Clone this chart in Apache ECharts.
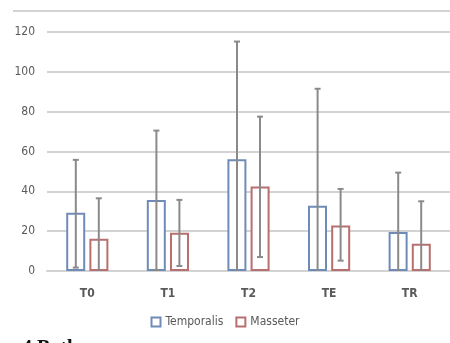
<!DOCTYPE html>
<html><head><meta charset="utf-8">
<script src="https://cdn.jsdelivr.net/npm/echarts@6/dist/echarts.min.js"></script>
<style>html,body{margin:0;padding:0;background:#fff}#c{width:450px;height:343px}</style>
</head><body><div id="c"></div>
<script>
var categories = ['T0', 'T1', 'T2', 'TE', 'TR'];
var temporalis = [29.3, 35.7, 56.1, 32.8, 19.6];
var temporalisLow = [1.7, 0.5, 0, 0, 0];
var temporalisHigh = [55.8, 70.5, 115.2, 91.5, 49.4];
var masseter = [16.2, 19.2, 42.4, 22.8, 13.7];
var masseterLow = [0, 2.5, 7, 5.2, 0];
var masseterHigh = [36.5, 35.7, 77.5, 41.2, 35];
var yTicks = [0, 20, 40, 60, 80, 100, 120];

var FONT = '"Liberation Sans Narrow", "DejaVu Sans Condensed", "Liberation Sans", Arial, sans-serif';
var chart = echarts.init(document.getElementById('c'));

function errData(low, high) {
  return categories.map(function (c, i) { return [i, low[i], high[i]]; });
}
function errRender(offset) {
  return function (params, api) {
    var i = api.value(0);
    var lo = api.coord([i, api.value(1)]);
    var hi = api.coord([i, api.value(2)]);
    var x = lo[0] + offset;
    var style = { stroke: '#8a8a8a', lineWidth: 2 };
    var children = [
      { type: 'line', shape: { x1: x, y1: lo[1], x2: x, y2: hi[1] }, style: style },
      { type: 'line', shape: { x1: x - 3, y1: hi[1], x2: x + 3, y2: hi[1] }, style: style }
    ];
    if (api.value(1) > 0) {
      children.push({ type: 'line', shape: { x1: x - 3, y1: lo[1], x2: x + 3, y2: lo[1] }, style: style });
    }
    return { type: 'group', children: children };
  };
}

chart.setOption({
  animation: false,
  textStyle: { fontFamily: FONT },
  grid: { left: 47, right: -2, top: 32, bottom: 72, containLabel: false },
  legend: {
    bottom: 10, left: 'center', itemWidth: 9, itemHeight: 9, itemGap: 12,
    icon: 'rect',
    textStyle: { fontSize: 12, color: '#595959', fontFamily: FONT },
    data: ['Temporalis', 'Masseter']
  },
  xAxis: {
    type: 'category', data: categories,
    axisLine: { show: true, lineStyle: { color: '#d3d3d3', width: 2 } },
    axisTick: { show: false },
    axisLabel: { fontSize: 12, fontWeight: 'bold', color: '#595959', margin: 17, fontFamily: FONT }
  },
  yAxis: {
    type: 'value', min: 0, max: 120, interval: 20,
    axisLine: { show: false }, axisTick: { show: false },
    axisLabel: { fontSize: 12, color: '#595959', margin: 12, fontFamily: FONT,
      formatter: function (v) { return yTicks.indexOf(v) >= 0 ? String(v) : ''; } },
    splitLine: { lineStyle: { color: '#d3d3d3', width: 2 } }
  },
  series: [
    { name: 'Temporalis', type: 'bar', data: temporalis, barWidth: 19, barGap: '22%',
      itemStyle: { color: '#ffffff', borderColor: '#6f8cb8', borderWidth: 2 } },
    { name: 'Masseter', type: 'bar', data: masseter, barWidth: 19,
      itemStyle: { color: '#ffffff', borderColor: '#b86f6f', borderWidth: 2 } },
    { type: 'custom', data: errData(temporalisLow, temporalisHigh), renderItem: errRender(-11.5), z: 5, silent: true },
    { type: 'custom', data: errData(masseterLow, masseterHigh), renderItem: errRender(11.5), z: 5, silent: true }
  ],
  graphic: [
    { type: 'line', shape: { x1: 13, y1: 11, x2: 450, y2: 11 }, style: { stroke: '#d3d3d3', lineWidth: 2 } },
    { type: 'text', left: 22, top: 339, style: { text: '4 Both', fontSize: 20, fontWeight: 'bold', fontFamily: '"Liberation Serif", serif', fill: '#111' } }
  ]
});
</script></body></html>
